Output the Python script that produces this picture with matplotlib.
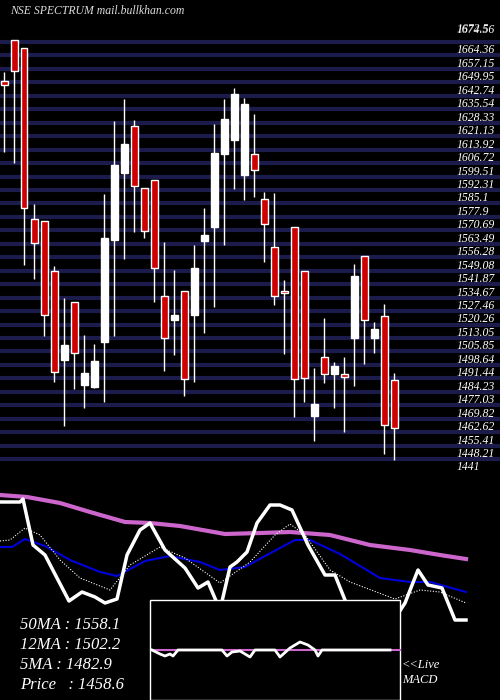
"""NSE SPECTRUM candlestick chart with moving averages and MACD inset."""

import matplotlib
matplotlib.use("Agg")
import matplotlib.pyplot as plt
from matplotlib.patches import Rectangle

# candles: open, high, low, close
opens = [1643.5, 1665.4, 1661.1, 1569.6, 1568.5, 1541.7, 1494.0, 1525.1, 1480.7, 1479.6,
         1503.7, 1558.3, 1594.2, 1619.4, 1586.2, 1590.4, 1528.3, 1515.5, 1531.0, 1518.2,
         1557.8, 1565.3, 1604.4, 1611.9, 1593.1, 1604.4, 1580.3, 1554.6, 1531.0, 1565.3,
         1541.7, 1464.1, 1495.7, 1486.6, 1486.6, 1505.8, 1549.7, 1505.8, 1517.6, 1483.3]
highs = [1648.3, 1665.4, 1661.1, 1577.6, 1568.5, 1544.4, 1527.2, 1525.1, 1507.4, 1502.6,
         1583.0, 1622.1, 1633.8, 1622.6, 1586.2, 1590.4, 1557.2, 1542.2, 1531.0, 1555.6,
         1575.5, 1620.5, 1633.8, 1639.7, 1634.4, 1625.8, 1584.0, 1583.5, 1536.9, 1565.3,
         1541.7, 1489.8, 1516.6, 1493.0, 1495.7, 1545.5, 1549.7, 1514.4, 1524.0, 1487.1]
lows = [1605.5, 1599.6, 1544.9, 1537.4, 1506.9, 1482.3, 1458.7, 1478.5, 1468.3, 1479.0,
        1471.6, 1506.9, 1548.1, 1562.6, 1559.4, 1525.1, 1488.2, 1496.7, 1474.8, 1482.3,
        1508.5, 1522.4, 1555.6, 1585.6, 1579.7, 1581.4, 1546.5, 1523.5, 1497.3, 1463.5,
        1471.6, 1450.7, 1481.7, 1468.3, 1455.5, 1480.1, 1491.9, 1497.8, 1443.7, 1440.5]
closes = [1641.3, 1648.8, 1575.5, 1556.7, 1518.2, 1487.6, 1502.1, 1497.8, 1487.1, 1493.5,
          1559.4, 1598.5, 1609.7, 1587.2, 1563.1, 1543.3, 1505.8, 1518.2, 1483.9, 1543.3,
          1561.0, 1604.9, 1623.1, 1636.5, 1631.2, 1595.8, 1566.9, 1528.3, 1529.9, 1483.9,
          1484.4, 1470.5, 1486.6, 1490.8, 1485.0, 1539.0, 1515.5, 1510.7, 1459.2, 1457.6]

grid_levels = [1664.36, 1657.15, 1649.95, 1642.74, 1635.54, 1628.33, 1621.13, 1613.92,
               1606.72, 1599.51, 1592.31, 1585.1, 1577.9, 1570.69, 1563.49, 1556.28,
               1549.08, 1541.87, 1534.67, 1527.46, 1520.26, 1513.05, 1505.85, 1498.64,
               1491.44, 1484.23, 1477.03, 1469.82, 1462.62, 1455.41, 1448.21, 1441]

# lower panel indicator lines (x in candle index units)
price_x = [-0.4, 1.6, 1.9, 2.9, 4.1, 6.5, 7.8, 9.1, 10.1, 11.3, 12.3, 13.6, 14.6, 16.1, 18.1,
           19.4, 20.4, 21.6, 22.6, 23.3, 24.3, 25.3, 26.6, 27.6, 28.8, 30.4, 32.1, 33.1, 34.1,
           35, 39, 40.1, 41.4, 42.4, 43.8, 45.1, 46.2]
price_v = [198, 198, 201, 155, 145, 99, 108, 103, 97, 101, 145, 170, 177, 150, 132, 112, 118,
           90, 133, 138, 148, 177, 195, 195, 190, 155, 125, 125, 100, 80, 80, 97, 130, 115,
           112, 80, 80]
ma50_x = [-0.4, 2.3, 5.6, 8.6, 12.1, 14.6, 17.6, 22.1, 25.6, 28.6, 32.6, 36.6, 40.6, 43.6, 46.2]
ma50_v = [205, 203, 197, 188, 178, 177, 174, 166, 167, 168, 165, 155, 150, 145, 141]
ma12_x = [-0.4, 0.8, 2.1, 4.1, 6.6, 9.6, 11.3, 14.1, 16.6, 19.6, 21.6, 24.1, 26.1, 29.1, 30.6,
          33.6, 37.6, 40.6, 42.6, 46.2]
ma12_v = [153, 153, 161, 154, 140, 128, 124, 139, 144, 138, 130, 133, 144, 160, 160, 146,
          122, 118, 118, 108]
ma5_x = [-0.4, 0.6, 2.1, 3.6, 5.6, 7.6, 10.6, 12.6, 15.6, 18.1, 21.6, 24.6, 27.1, 28.6, 30.1,
         32.6, 34.6, 39.1, 41.6, 43.6, 46.2]
ma5_v = [159, 160, 172, 165, 140, 122, 110, 135, 153, 142, 117, 138, 165, 176, 165, 130, 118,
         101, 110, 108, 97]
macd_x = [14.8, 15.6, 16.1, 16.6, 16.9, 17.4, 21.8, 22.3, 22.8, 23.6, 24.6, 25.1, 27.1, 27.6,
          28.6, 29.6, 30.4, 31.1, 31.4, 31.8, 38.6]
macd_v = [50, 46, 44, 46, 44, 50, 50, 44, 48, 49, 43, 50, 50, 43, 52, 58, 55, 50, 44, 50, 50]

legend_lines = ["50MA : 1558.1", "12MA : 1502.2", "5MA : 1482.9", "Price   : 1458.6"]

RED = "#cc0000"
GRID = "#1c1c4c"
SERIF = "Liberation Serif"

fig = plt.figure(figsize=(5, 7), dpi=100, facecolor="black")

ax = fig.add_axes([0, 210 / 700, 1, 490 / 700])
ax.set_facecolor("black")
ax.set_xlim(-0.4, 49.6)
ax.set_ylim(1424.41, 1686.86)
ax.axis("off")

for lvl in grid_levels:
    ax.axhline(lvl, color=GRID, lw=3, zorder=0)
    ax.text(45.3, lvl - 1.3, f"{lvl:g}", color="white", fontsize=8.5, family=SERIF,
            style="italic", va="top", ha="left")
ax.text(45.3, 1671.4, "1672.5", color="white", fontsize=8.5, family=SERIF, style="italic",
        va="center", alpha=0.8)
ax.text(45.3, 1670.8, "1674.56", color="white", fontsize=8.5, family=SERIF, style="italic",
        va="center")

for i, (o, h, l, c) in enumerate(zip(opens, highs, lows, closes)):
    ax.vlines(i, l, h, color="white", lw=1, zorder=2)
    up = c >= o
    ax.add_patch(Rectangle((i - 0.35, min(o, c)), 0.7, max(abs(c - o), 0.8),
                           facecolor="white" if up else RED, edgecolor="white",
                           lw=1, zorder=3))

ax.text(0.6, 1681, "NSE SPECTRUM mail.bullkhan.com", color="#dddddd", fontsize=8.5,
        family=SERIF, style="italic", va="center")

low = fig.add_axes([0, 0, 1, 210 / 700])
low.set_facecolor("black")
low.set_xlim(-0.4, 49.6)
low.set_ylim(0, 210)
low.axis("off")

low.plot(ma50_x, ma50_v, color="#cc66cc", lw=3)
low.plot(ma12_x, ma12_v, color="#0000dd", lw=1.5)
low.plot(ma5_x, ma5_v, color="white", lw=0.8, ls=(0, (1, 1.5)))
low.plot(price_x, price_v, color="white", lw=2.5)

low.add_patch(Rectangle((14.6, 0), 25, 100, facecolor="black", edgecolor="white",
                        lw=1, zorder=5))
low.plot([14.8, 39.6], [50, 50], color="#cc66cc", lw=1.5, zorder=6)
low.plot(macd_x, macd_v, color="white", lw=2, zorder=7)

for k, line in enumerate(legend_lines):
    low.text(1.6, 75 - k * 20, line, color="white", fontsize=12, family=SERIF,
             style="italic", va="center")
low.text(39.8, 35, "<<Live", color="white", fontsize=9, family=SERIF, style="italic",
         va="center")
low.text(39.8, 20, "MACD", color="white", fontsize=9, family=SERIF, style="italic",
         va="center")

fig.savefig("out.png", dpi=100, facecolor="black")
